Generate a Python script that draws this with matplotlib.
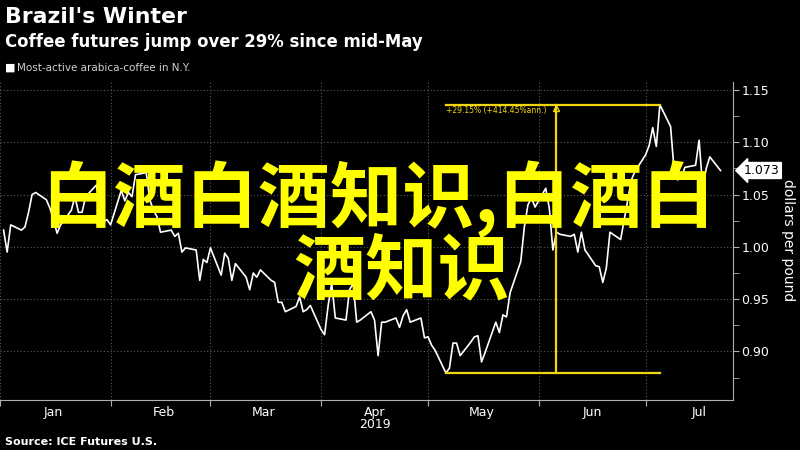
"""
Bloomberg style chart: arabica coffee futures, Jan-Jul 2019.
"""

import matplotlib.pyplot as plt
import matplotlib.dates as mdates
import numpy as np
import pandas as pd
from matplotlib.ticker import MultipleLocator, FormatStrFormatter

# 取引日 (2019-01-02 ~ 2019-07-22)
dates = pd.bdate_range("2019-01-02", "2019-07-22")

# 価格 (dollars per pound), 画像から読み取り
prices = [
    1.016, 0.995, 1.021, 1.016, 1.019, 1.033, 1.050, 1.052, 1.045, 1.037,
    1.026, 1.013, 1.021, 1.035, 1.048, 1.033, 1.033, 1.048, 1.059, 1.040,
    1.024, 1.026, 1.021, 1.054, 1.044, 1.052, 1.048, 1.069, 1.071, 1.045,
    1.035, 1.029, 1.014, 1.016, 1.010, 1.013, 0.995, 0.999, 0.997, 0.968,
    0.988, 0.985, 0.999, 0.973, 0.994, 0.989, 0.968, 0.984, 0.971, 0.959,
    0.975, 0.971, 0.978, 0.968, 0.966, 0.947, 0.947, 0.938, 0.943, 0.952,
    0.938, 0.940, 0.944, 0.921, 0.916, 0.944, 0.965, 0.932, 0.930, 0.959,
    0.965, 0.928, 0.930, 0.938, 0.930, 0.896, 0.928, 0.928, 0.932, 0.923,
    0.934, 0.940, 0.928, 0.932, 0.913, 0.914, 0.906, 0.901, 0.8795, 0.884,
    0.908, 0.908, 0.896, 0.909, 0.914, 0.915, 0.890, 0.899, 0.928, 0.918,
    0.935, 0.933, 0.956, 0.986, 1.019, 1.040, 1.047, 1.038, 1.056, 1.037,
    0.997, 1.014, 1.012, 1.010, 1.012, 0.995, 1.014, 0.997, 0.982, 0.981,
    0.966, 0.980, 1.014, 1.007, 1.026, 1.045, 1.064, 1.072, 1.088, 1.097,
    1.114, 1.096, 1.1359, 1.115, 1.073, 1.064, 1.066, 1.076, 1.078, 1.102,
    1.056, 1.075, 1.086, 1.073,
]

title = "Brazil's Winter"
subtitle = "Coffee futures jump over 29% since mid-May"
legend_label = "Most-active arabica-coffee in N.Y."
source = "Source: ICE Futures U.S."
ylabel = "dollars per pound"
measure_label = "+29.15% (+414.45%ann.)"
measure_date = "2019-06-06"
overlay_line1 = "白酒白酒知识,白酒白"
overlay_line2 = "酒知识"

BG = "black"
FG = "white"
GRID = "#5a5a5a"
AXIS = "#b0b0b0"
GOLD = "#f2d413"

fig = plt.figure(figsize=(8, 4.5), dpi=100, facecolor=BG)
ax = fig.add_axes([0.0, 50 / 450, 733 / 800, 318 / 450], facecolor=BG)

ax.plot(dates, prices, color=FG, lw=1.2, zorder=3)

# 計測ツール (安値→高値)
i_lo = int(np.argmin(prices))
i_hi = int(np.argmax(prices))
lo, hi = prices[i_lo], prices[i_hi]
ax.plot([dates[i_lo], dates[i_hi]], [lo, lo], color=GOLD, lw=1.6, zorder=4)
ax.plot([dates[i_lo], dates[i_hi]], [hi, hi], color=GOLD, lw=1.6, zorder=4)
mx = pd.Timestamp(measure_date)
ax.plot([mx, mx], [lo, hi], color=GOLD, lw=1.6, zorder=4)
ax.plot([mx], [hi - 0.003], marker="^", ms=5, mfc="none", mec=GOLD, mew=1.0, zorder=5)
ax.text(dates[i_lo], hi - 0.0015, measure_label, color=GOLD, fontsize=5.5,
        ha="left", va="top", zorder=5)

# 軸
ax.set_xlim(pd.Timestamp("2019-01-01"), pd.Timestamp("2019-07-25 12:00"))
ax.set_ylim(0.8536, 1.1576)

ax.xaxis.set_major_locator(mdates.MonthLocator())
ax.xaxis.set_major_formatter(plt.NullFormatter())
ax.xaxis.set_minor_locator(mdates.MonthLocator(bymonthday=16))
ax.xaxis.set_minor_formatter(mdates.DateFormatter("%b"))
ax.tick_params(axis="x", which="major", length=4, color=AXIS, direction="out")
ax.tick_params(axis="x", which="minor", length=0, labelcolor=FG, labelsize=9, pad=4)
ax.text(pd.Timestamp("2019-04-16"), -0.058, "2019", transform=ax.get_xaxis_transform(),
        color=FG, fontsize=9, ha="center", va="top")

ax.yaxis.tick_right()
ax.yaxis.set_major_locator(MultipleLocator(0.05))
ax.yaxis.set_minor_locator(MultipleLocator(0.025))
ax.yaxis.set_major_formatter(FormatStrFormatter("%.2f"))
ax.tick_params(axis="y", which="both", length=4, color=AXIS, labelcolor=FG,
               labelsize=9, pad=2)

ax.grid(True, which="major", color=GRID, ls=(0, (1, 2)), lw=0.8)
for side in ["left", "top"]:
    ax.spines[side].set_visible(False)
for side in ["right", "bottom"]:
    ax.spines[side].set_color(AXIS)

# 最終値タグ
ax.annotate(f"{prices[-1]:.3f}", xy=(1.0, prices[-1]), xycoords=("axes fraction", "data"),
            xytext=(8, 0), textcoords="offset points", color="black", fontsize=9,
            ha="left", va="center",
            bbox=dict(boxstyle="larrow,pad=0.12", fc="white", ec="white"))

# 縦軸ラベル (右端)
fig.text(788 / 800, 1 - 240 / 450, ylabel, color=FG, fontsize=10, rotation=270,
         ha="center", va="center")

# タイトル類
fig.text(0.006, 0.962, title, color=FG, fontsize=15.8, fontweight="bold", va="center")
fig.text(0.006, 0.907, subtitle, color=FG, fontsize=11.9, fontweight="bold", va="center")
fig.text(0.006, 0.849, "■", color=FG, fontsize=8, va="center")
fig.text(0.021, 0.849, legend_label, color="#d0d0d0", fontsize=7.5, va="center")
fig.text(0.006, 0.006, source, color=FG, fontsize=8, fontweight="bold", va="bottom")

# 黄色の重ね文字
fig.text(378 / 800, 1 - 199 / 450, overlay_line1, color="#ffff00", fontsize=52,
         fontweight="bold", family=["Noto Sans CJK SC", "DejaVu Sans"],
         ha="center", va="center", zorder=10)
fig.text(402 / 800, 1 - 272 / 450, overlay_line2, color="#ffff00", fontsize=52,
         fontweight="bold", family=["Noto Sans CJK SC", "DejaVu Sans"],
         ha="center", va="center", zorder=10)

fig.savefig("out.png", dpi=100, facecolor=BG)
